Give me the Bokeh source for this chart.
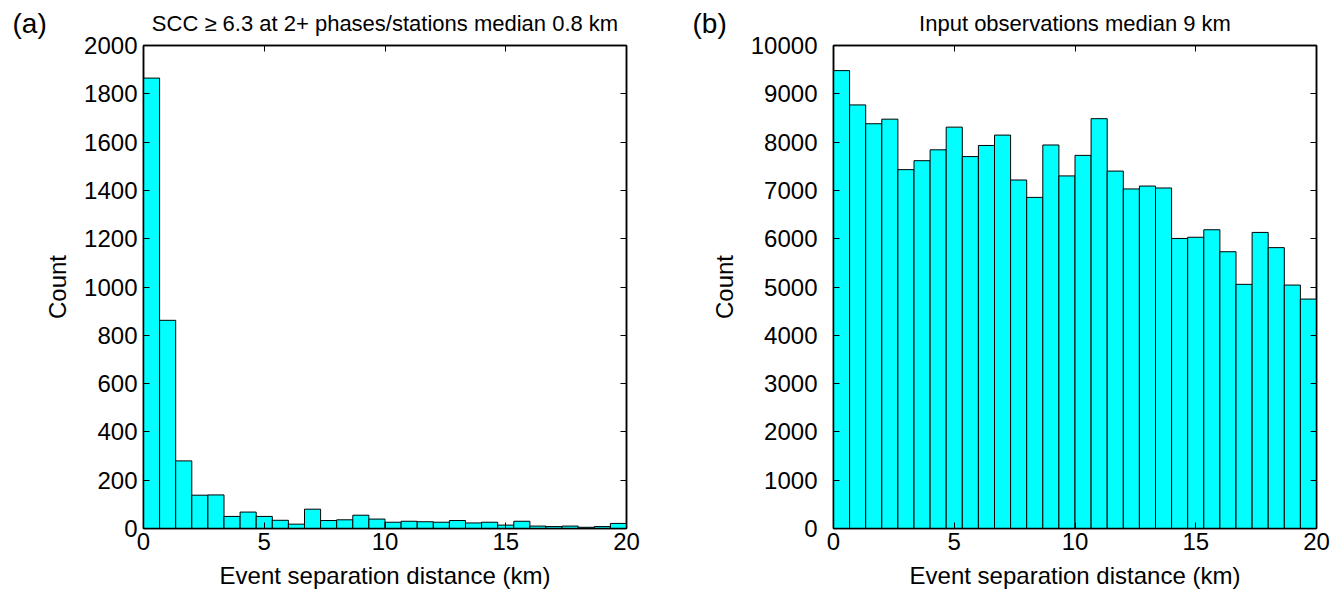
import numpy as np
from bokeh.plotting import figure
from bokeh.layouts import row, column
from bokeh.core.properties import value
from bokeh.models import (Range1d, SingleIntervalTicker, LinearAxis,
                          CustomJSTickFormatter)
from bokeh.embed import file_html
from bokeh.resources import INLINE

# ---- data ----
dist_min, dist_max, n_bins = 0, 20, 30
counts_a = [1865, 862, 280, 138, 139, 50, 68, 50, 34, 18,
            80, 33, 36, 55, 39, 26, 30, 28, 26, 33,
            23, 26, 14, 30, 10, 8, 10, 5, 8, 21]
counts_b = [9480, 8770, 8380, 8475, 7430, 7615, 7840, 8310, 7700, 7930,
            8145, 7215, 6855, 7940, 7300, 7725, 8485, 7400, 7030, 7090,
            7050, 6005, 6030, 6185, 5730, 5055, 6130, 5815, 5040, 4750]
titles = ["SCC \u2265 6.3 at 2+ phases/stations median 0.8 km",
          "Input observations median 9 km"]
tags = ["(a)", "(b)"]
xlabel = "Event separation distance (km)"
ylabel = "Count"

FONT = "Liberation Sans"
edges = np.linspace(dist_min, dist_max, n_bins + 1)

# ---- layout constants ----
W_A, W_B = 690, 653
BORDER_L = 143
FRAME = 483
HEADER_H = 40
OVERLAP = 10
TOP_GAP = 15


def panel(counts, ymax, ystep, width, mb_right, tick_standoff, label_standoff):
    p = figure(width=width, height=TOP_GAP + FRAME + 72,
               frame_width=FRAME, frame_height=FRAME,
               min_border_left=BORDER_L, min_border_right=mb_right,
               min_border_top=TOP_GAP, min_border_bottom=72,
               x_range=Range1d(dist_min, dist_max), y_range=Range1d(0, ymax),
               output_backend="svg", toolbar_location=None,
               x_axis_location=None, y_axis_location=None)
    p.quad(left=edges[:-1], right=edges[1:], bottom=0, top=counts,
           fill_color="#00FFFF", line_color="black", line_width=1)
    p.grid.visible = False
    p.outline_line_color = "black"
    p.outline_line_width = 1.5
    p.background_fill_color = "white"
    p.border_fill_color = None

    def style(ax):
        ax.axis_line_color = "black"
        ax.axis_line_width = 1.5
        ax.major_tick_in = 6
        ax.major_tick_out = 0
        ax.minor_tick_in = 0
        ax.minor_tick_out = 0
        ax.major_tick_line_color = "black"
        ax.major_label_text_font = FONT
        ax.major_label_text_font_size = "24px"
        ax.major_label_text_color = "black"
        ax.axis_label_text_font = FONT
        ax.axis_label_text_font_size = "24px"
        ax.axis_label_text_font_style = "normal"
        ax.axis_label_text_color = "black"

    xb = LinearAxis(ticker=SingleIntervalTicker(interval=5, num_minor_ticks=0),
                    axis_label=xlabel)
    style(xb)
    xb.major_label_standoff = 4
    xb.axis_label_standoff = 9
    p.add_layout(xb, "below")

    yl = LinearAxis(ticker=SingleIntervalTicker(interval=ystep, num_minor_ticks=0),
                    axis_label=ylabel)
    style(yl)
    yl.major_label_standoff = tick_standoff
    yl.axis_label_standoff = label_standoff
    p.add_layout(yl, "left")

    blank = CustomJSTickFormatter(code="return ''")
    xa = LinearAxis(ticker=SingleIntervalTicker(interval=5, num_minor_ticks=0),
                    formatter=blank)
    style(xa)
    xa.major_label_standoff = 0
    p.add_layout(xa, "above")

    yr = LinearAxis(ticker=SingleIntervalTicker(interval=ystep, num_minor_ticks=0),
                    formatter=blank)
    style(yr)
    yr.major_label_standoff = 0
    p.add_layout(yr, "right")
    return p


pa = panel(counts_a, 2000, 200, W_A, 64, 6, 10)
pb = panel(counts_b, 10000, 1000, W_B, 27, 16, 10)

# ---- header with panel tags and titles ----
total_w = W_A + W_B
frame_left = [BORDER_L, W_A + BORDER_L]
title_x = [fl + FRAME / 2 for fl in frame_left]
tag_x = [12, W_A + 2]
text_y = [23, 23]

hdr = figure(width=total_w, height=HEADER_H,
             x_range=Range1d(0, total_w), y_range=Range1d(HEADER_H, 0),
             min_border=0, output_backend="svg", toolbar_location=None,
             x_axis_location=None, y_axis_location=None)
hdr.outline_line_color = None
hdr.background_fill_color = "white"
hdr.border_fill_color = "white"
hdr.grid.visible = False
hdr.text(x=title_x, y=text_y, text=titles, text_font=value(FONT),
         text_font_size="22px", text_color="black",
         text_align="center", text_baseline="middle")
hdr.text(x=tag_x, y=text_y, text=tags, text_font=value(FONT),
         text_font_size="28px", text_color="black",
         text_align="left", text_baseline="middle")

charts = row(pa, pb)
charts.margin = (-OVERLAP, 0, 0, 0)
layout = column(hdr, charts)
open("out.html", "w").write(file_html(layout, INLINE))
